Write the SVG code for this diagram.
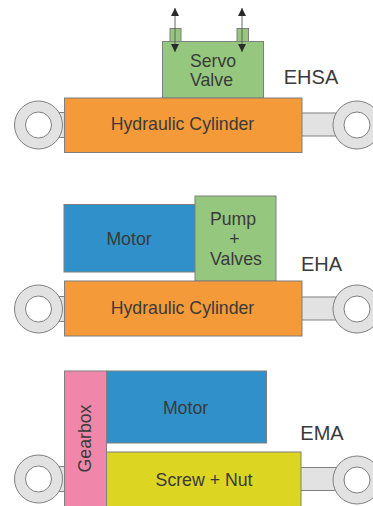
<svg xmlns="http://www.w3.org/2000/svg" width="373" height="506" viewBox="0 0 373 506">
<style>
text{font-family:"Liberation Sans",Arial,sans-serif;fill:#3a3a3a;text-anchor:middle}
.l{font-size:17.7px}.h{font-size:20px}
.b{stroke:#7f7f7f;stroke-width:1}
.o{fill:#f49a38}.g{fill:#95c87e}.m{fill:#3091ca}.p{fill:#f087aa}.y{fill:#dcd522}.r{fill:#e2e2e2;stroke:#808080;stroke-width:1}
.e{fill:#e2e2e2;stroke:#808080;stroke-width:1}.i{fill:#fff;stroke:#808080;stroke-width:1}
.a{stroke:#555;stroke-width:.9;fill:none;marker-start:url(#ah);marker-end:url(#ah)}
</style>
<defs>
<marker id="ah" markerUnits="userSpaceOnUse" markerWidth="9" markerHeight="9" refX="8" refY="4" orient="auto-start-reverse"><path d="M0 0L8 4L0 8Z" fill="#2a2a2a"/></marker>
<g id="eye"><circle class="e" r="24"/><circle class="i" r="13"/></g>
</defs>
<g id="ehsa">
<g id="ehsa-actuator">
<rect class="r" x="58" y="112.500" width="8" height="25"/><rect class="r" x="300" y="113" width="42" height="23"/>
<use href="#eye" x="38.500" y="125"/><use href="#eye" x="357" y="125"/>
</g>
<g id="ehsa-ports"><rect class="g b" x="170" y="28.500" width="11" height="13"/><rect class="g b" x="237" y="28.500" width="11.500" height="13"/></g>
<g id="ehsa-valve"><rect class="g b" x="162.500" y="41.500" width="101" height="56.500"/><text class="l" x="213" y="66.500">Servo</text><text class="l" x="211.500" y="86">Valve</text></g>
<g id="ehsa-cylinder"><rect class="o b" x="64.500" y="98" width="237.500" height="54.500"/><text class="l" x="182.500" y="130">Hydraulic Cylinder</text></g>
<text id="ehsa-label" class="h" x="311" y="83.500">EHSA</text>
</g>
<g id="connectors"><path class="a" d="M175 8V52"/><path class="a" d="M242 8V52"/></g>
<g id="eha">
<g id="eha-actuator">
<rect class="r" x="58" y="296.500" width="8" height="25"/><rect class="r" x="300" y="297" width="42" height="23"/>
<use href="#eye" x="38.500" y="309"/><use href="#eye" x="357" y="309"/>
</g>
<g id="eha-motor"><rect class="m b" x="64" y="204.500" width="131.500" height="67.500"/><text class="l" x="129" y="245">Motor</text></g>
<g id="eha-pump"><rect class="g b" x="195" y="196" width="81" height="85"/><text class="l" x="233" y="225">Pump</text><text class="l" x="234.500" y="245">+</text><text class="l" x="236" y="265">Valves</text></g>
<g id="eha-cylinder"><rect class="o b" x="64.500" y="281" width="237.500" height="55"/><text class="l" x="182.500" y="314">Hydraulic Cylinder</text></g>
<text id="eha-label" class="h" x="321.500" y="270.500">EHA</text>
</g>
<g id="ema">
<g id="ema-actuator">
<rect class="r" x="58" y="466.500" width="8" height="25"/><rect class="r" x="299" y="467.500" width="42" height="23"/>
<use href="#eye" x="38.500" y="479"/><use href="#eye" x="357" y="480"/>
</g>
<g id="ema-motor"><rect class="m b" x="106.500" y="371" width="160" height="72"/><text class="l" x="185.500" y="414">Motor</text></g>
<g id="ema-screw"><rect class="y b" x="106.500" y="452" width="194.500" height="56"/><text class="l" x="204" y="486">Screw + Nut</text></g>
<g id="ema-gearbox"><rect class="p b" x="64.500" y="371" width="42" height="137"/><text class="l" transform="translate(91 438.500) rotate(-90)">Gearbox</text></g>
<text id="ema-label" class="h" x="322" y="440">EMA</text>
</g>
</svg>
